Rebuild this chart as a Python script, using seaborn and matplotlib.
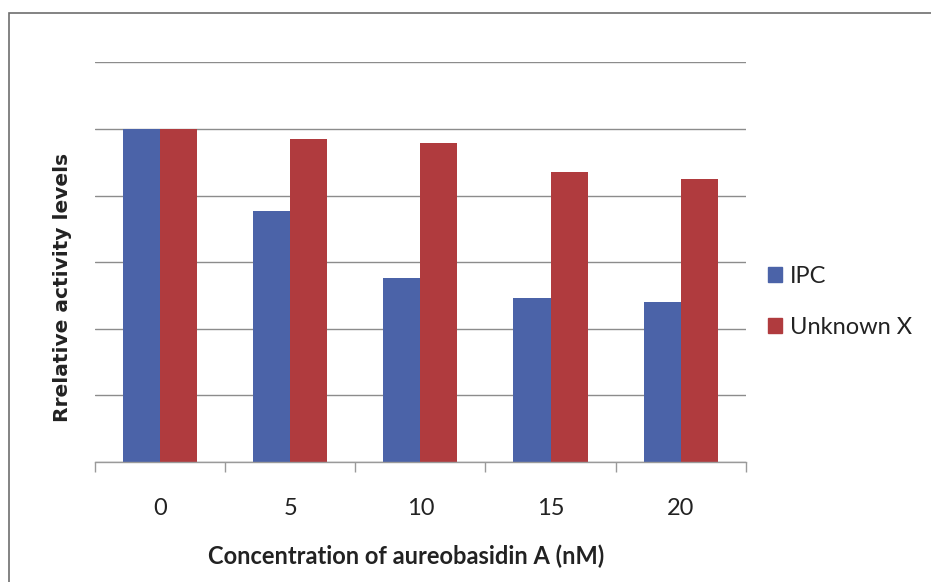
import pandas as pd
import matplotlib
matplotlib.use("Agg")
import matplotlib.pyplot as plt
import matplotlib.patches as mpatches
from matplotlib.ticker import MultipleLocator, FixedLocator
import seaborn as sns

# Data
concentrations = ["0", "5", "10", "15", "20"]
ipc = [1.0, 0.755, 0.552, 0.493, 0.481]
unknown_x = [1.0, 0.970, 0.958, 0.872, 0.849]
series_names = ["IPC", "Unknown X"]
colors = ["#4B63A8", "#B03B3E"]

df = pd.DataFrame({
    "Concentration": concentrations * 2,
    "Activity": ipc + unknown_x,
    "Series": [series_names[0]] * len(ipc) + [series_names[1]] * len(unknown_x),
})

sns.set_style("white")
plt.rcParams["font.family"] = ["Lato", "DejaVu Sans"]

fig = plt.figure(figsize=(9.31, 5.82), dpi=100)
ax = fig.add_axes([0.102, 0.206, 0.699, 0.687])

sns.barplot(data=df, x="Concentration", y="Activity", hue="Series",
            palette=colors, width=0.57, gap=0, saturation=1, ax=ax,
            legend=False, edgecolor="none", zorder=3)

ax.set_ylim(0, 1.2)
ax.set_xlim(-0.5, len(concentrations) - 0.5)
ax.yaxis.set_major_locator(MultipleLocator(0.2))
ax.set_yticklabels([])
ax.tick_params(axis="y", length=0)
ax.grid(axis="y", color="#8c8c8c", linewidth=1.0, zorder=0)
ax.grid(axis="x", visible=False)
for side in ["top", "left", "right"]:
    ax.spines[side].set_visible(False)
ax.spines["bottom"].set_color("#9a9a9a")
ax.spines["bottom"].set_linewidth(1.0)
ax.spines["bottom"].set_zorder(4)

# boundary ticks between categories, labels centred without ticks
ax.xaxis.set_minor_locator(FixedLocator([i - 0.5 for i in range(len(concentrations) + 1)]))
ax.tick_params(axis="x", which="minor", length=7, color="#9a9a9a", width=1, direction="out", bottom=True)
ax.tick_params(axis="x", which="major", length=0, pad=26, labelsize=17, labelcolor="#222222")

ax.set_xlabel("Concentration of aureobasidin A (nM)", fontsize=17, fontweight="bold", color="#222222")
ax.xaxis.set_label_coords(0.478, -0.205)
ax.set_ylabel("Rrelative activity levels", fontsize=14.5, fontweight="bold",
              color="#222222", family="DejaVu Sans")
ax.yaxis.set_label_coords(-0.036, 0.438)

handles = [mpatches.Patch(color=c, label=n) for c, n in zip(colors, series_names)]
fig.legend(handles=handles, loc="center left", bbox_to_anchor=(0.802, 0.481),
           frameon=False, fontsize=17, handlelength=0.6, handleheight=0.6,
           handletextpad=0.35, labelspacing=1.27, labelcolor="#222222")

# chart border, cut off at right and bottom as in the reference
fig.add_artist(mpatches.Rectangle((0.010, -0.05), 1.2, 1.028, transform=fig.transFigure,
                                  fill=False, edgecolor="#6e6e6e", linewidth=1.2))

fig.savefig("out.png", dpi=100)
